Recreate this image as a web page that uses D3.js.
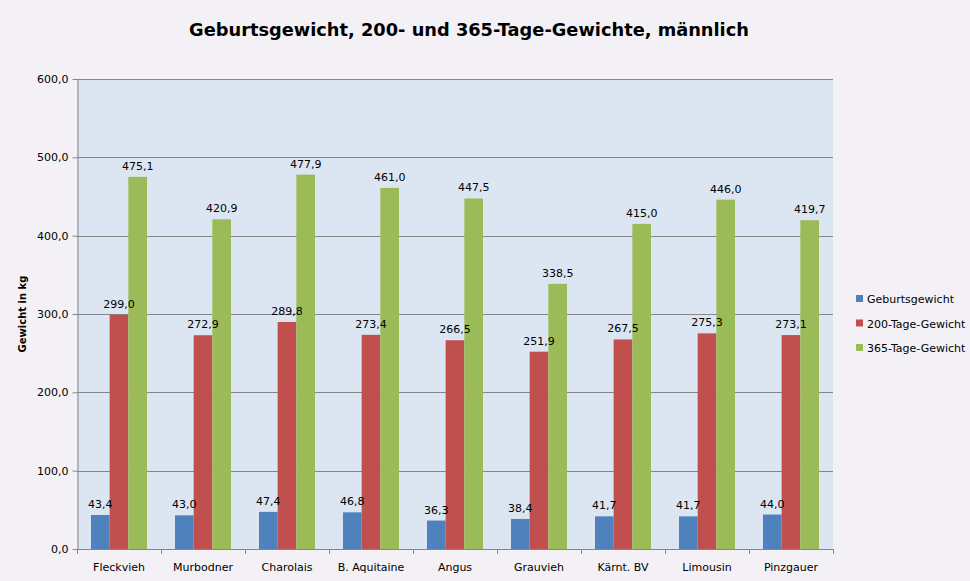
<!DOCTYPE html>
<html><head><meta charset="utf-8">
<script src="https://cdn.jsdelivr.net/npm/d3@7"></script>
<style>
html,body{margin:0;padding:0;background:#f3f1f5;}
svg{display:block;}
text{font-family:"DejaVu Sans",Verdana,sans-serif;fill:#000;}
</style></head><body>
<svg id="c" width="970" height="581"></svg>
<script>
const categories = ["Fleckvieh","Murbodner","Charolais","B. Aquitaine","Angus","Grauvieh","Kärnt. BV","Limousin","Pinzgauer"];
const seriesNames = ["Geburtsgewicht","200-Tage-Gewicht","365-Tage-Gewicht"];
const geburtsgewicht = [43.4,43.0,47.4,46.8,36.3,38.4,41.7,41.7,44.0];
const gewicht200 = [299.0,272.9,289.8,273.4,266.5,251.9,267.5,275.3,273.1];
const gewicht365 = [475.1,420.9,477.9,461.0,447.5,338.5,415.0,446.0,419.7];
const yTicks = [0,100,200,300,400,500,600];
const colors = ["#4f81bd","#c0504d","#9bbb59"];
const series = [geburtsgewicht, gewicht200, gewicht365];

const svg = d3.select("#c");
const L=77, R=833, T=79, B=549;
const fmt = v => v.toFixed(1).replace(".", ",");

svg.append("text").attr("x",469).attr("y",36).attr("text-anchor","middle")
  .style("font-size","17.8px").style("font-weight","bold")
  .text("Geburtsgewicht, 200- und 365-Tage-Gewichte, männlich");

svg.append("rect").attr("x",L).attr("y",T).attr("width",R-L).attr("height",B-T).attr("fill","#dce6f2");

const x = d3.scaleBand().domain(categories).range([L,R]).paddingInner(0).paddingOuter(0);
const y = d3.scaleLinear().domain([0,600]).range([B,T]);
const groupW = x.bandwidth()*2/3;
const xs = d3.scaleBand().domain(seriesNames).range([0,groupW]);
const bx = (i,si) => x(categories[i])+(x.bandwidth()-groupW)/2+xs(seriesNames[si]);

// gridlines
svg.append("g").selectAll("line").data(yTicks.filter(d=>d>0)).join("line")
  .attr("x1",L).attr("x2",R).attr("y1",d=>Math.round(y(d))+0.5).attr("y2",d=>Math.round(y(d))+0.5)
  .attr("stroke","#868686").attr("stroke-width",1);

// bars
series.forEach((vals,si)=>{
  svg.append("g").selectAll("rect").data(vals).join("rect")
    .attr("x",(d,i)=>bx(i,si))
    .attr("width",xs.bandwidth())
    .attr("y",d=>y(d)).attr("height",d=>B-y(d))
    .attr("fill",colors[si]);
});
// labels
series.forEach((vals,si)=>{
  svg.append("g").selectAll("text").data(vals).join("text")
    .attr("x",(d,i)=>bx(i,si)+xs.bandwidth()/2)
    .attr("y",d=>y(d)-7).attr("text-anchor","middle").style("font-size","11px")
    .text(d=>fmt(d));
});

// y axis
const yAxis = d3.axisLeft(y).tickValues(yTicks).tickFormat(fmt).tickSize(5).tickSizeOuter(0);
const yg = svg.append("g").attr("transform",`translate(${L+0.5},0)`).call(yAxis);
yg.select(".domain").attr("stroke","#868686");
yg.selectAll(".tick line").attr("stroke","#868686");
yg.selectAll(".tick text").style("font-size","11px").style("font-family","DejaVu Sans").attr("fill","#000").attr("x",-9);

// x axis
svg.append("line").attr("x1",L).attr("x2",R).attr("y1",B+0.5).attr("y2",B+0.5).attr("stroke","#868686");
const bounds = categories.map(c=>x(c)).concat([R]);
svg.append("g").selectAll("line").data(bounds).join("line")
  .attr("x1",d=>Math.round(d)+0.5).attr("x2",d=>Math.round(d)+0.5).attr("y1",B).attr("y2",B+5)
  .attr("stroke","#868686");
svg.append("g").selectAll("text").data(categories).join("text")
  .attr("x",d=>x(d)+x.bandwidth()/2).attr("y",571).attr("text-anchor","middle")
  .style("font-size","11px").text(d=>d);

// y title
svg.append("text").attr("transform","translate(26,314) rotate(-90)").attr("text-anchor","middle")
  .style("font-size","10px").style("font-weight","bold").text("Gewicht in kg");

// legend
const lg = svg.append("g").selectAll("g").data(seriesNames).join("g")
  .attr("transform",(d,i)=>`translate(856,${299+i*24.5})`);
lg.append("rect").attr("x",0).attr("y",-4).attr("width",7).attr("height",7).attr("fill",(d,i)=>colors[i]);
lg.append("text").attr("x",11).attr("y",4).style("font-size","11px").text(d=>d);
</script></body></html>
